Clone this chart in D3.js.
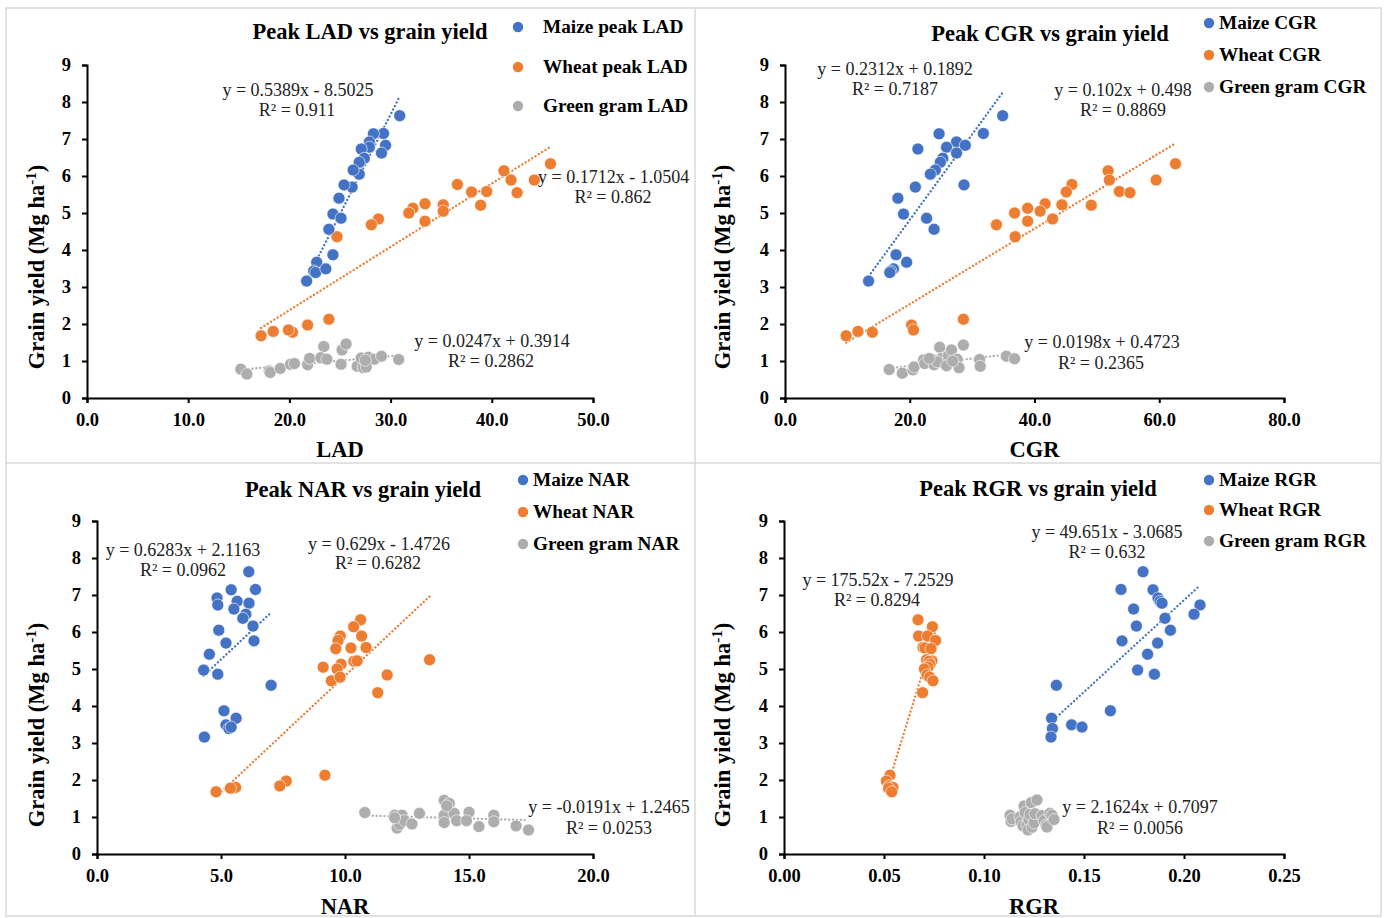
<!DOCTYPE html>
<meta charset="utf-8">
<script src="https://cdn.jsdelivr.net/npm/d3@7/dist/d3.min.js"></script>
<html>
<head>
<style>
body { margin: 0; background: #fff; }
svg text { font-family: "Liberation Serif", "Times New Roman", serif; }
.tick text { font-weight: bold; font-size: 18.5px; fill: #000; }
.axis path, .axis line { stroke: #000; stroke-width: 2; }
.title { font-weight: bold; font-size: 22.5px; }
.legend { font-weight: bold; font-size: 19.3px; }
.alab { font-weight: bold; font-size: 22.5px; }
.eq { font-size: 18px; fill: #222; }
</style>
</head>
<body>
<div id="chart"></div>
<script>

// grain yield (Mg/ha) against peak growth index, [x, y]
var maizeLAD = [[30.9,7.63],[29.3,7.15],[28.3,7.14],[29.5,6.83],[29.1,6.62],[27.9,6.92],[27.9,6.78],[27.1,6.73],
  [27.4,6.48],[26.9,6.37],[26.9,6.05],[26.3,6.16],[26.2,5.70],[25.4,5.76],[24.9,5.40],[24.3,4.97],[25.1,4.86],
  [23.9,4.56],[24.3,3.87],[22.7,3.67],[22.4,3.43],[22.6,3.39],[23.6,3.49],[21.7,3.16]];
var wheatLAD = [[45.8,6.33],[41.2,6.14],[41.9,5.89],[44.2,5.89],[42.5,5.55],[39.5,5.58],[38.0,5.57],[36.6,5.77],
  [38.9,5.21],[35.2,5.22],[35.2,5.05],[33.4,5.25],[33.4,4.78],[32.2,5.13],[31.8,5.00],[28.8,4.84],[28.1,4.68],
  [24.7,4.36],[23.9,2.13],[21.8,1.97],[20.3,1.78],[19.9,1.84],[18.4,1.80],[17.2,1.68]];
var gramLAD = [[15.2,0.78],[15.8,0.65],[18.0,0.73],[18.1,0.69],[19.1,0.80],[20.1,0.91],[20.5,0.93],[21.8,0.90],
  [22.0,1.07],[23.4,1.39],[23.1,1.09],[23.7,1.05],[25.2,1.30],[25.6,1.46],[25.1,0.91],[26.7,0.86],[27.1,1.08],
  [27.3,0.82],[27.6,0.84],[27.8,1.10],[28.4,1.05],[29.1,1.13],[27.5,1.02],[30.8,1.04]];

var maizeCGR = [[34.9,7.63],[31.8,7.15],[24.7,7.14],[27.5,6.92],[28.9,6.83],[25.9,6.78],[21.3,6.73],[27.5,6.62],
  [25.3,6.48],[24.9,6.37],[24.1,6.16],[23.3,6.05],[20.9,5.70],[28.7,5.76],[18.1,5.40],[19.0,4.97],[22.7,4.86],
  [23.9,4.56],[17.8,3.87],[19.5,3.67],[17.4,3.49],[17.0,3.43],[16.8,3.39],[13.4,3.16]];
var wheatCGR = [[62.6,6.33],[51.8,6.14],[52.0,5.89],[59.5,5.89],[53.6,5.58],[55.3,5.55],[46.0,5.77],[45.1,5.57],
  [49.1,5.21],[44.4,5.22],[41.7,5.25],[40.9,5.05],[38.9,5.13],[36.8,5.00],[38.9,4.78],[42.9,4.84],[33.9,4.68],
  [36.9,4.36],[28.6,2.13],[20.3,1.97],[20.6,1.84],[14.0,1.78],[11.7,1.80],[9.8,1.68]];
var gramCGR = [[16.7,0.77],[18.8,0.67],[20.5,0.76],[20.7,0.84],[22.2,1.03],[22.4,0.93],[23.6,1.04],[23.9,0.90],
  [24.8,1.37],[25.1,1.07],[25.5,0.93],[26.2,1.15],[26.7,1.30],[24.4,0.98],[27.6,1.05],[27.9,0.82],[28.6,1.43],
  [25.9,0.87],[31.2,1.04],[31.3,0.86],[35.5,1.13],[36.8,1.06],[23.1,1.07],[26.9,1.00]];

var maizeNAR = [[6.12,7.63],[5.41,7.14],[6.39,7.15],[4.84,6.92],[4.87,6.73],[5.65,6.83],[6.13,6.78],[5.52,6.62],
  [6.00,6.48],[5.88,6.37],[6.29,6.16],[4.91,6.05],[5.20,5.70],[6.33,5.76],[4.53,5.40],[4.30,4.97],[4.87,4.86],
  [7.02,4.56],[5.12,3.87],[5.61,3.67],[5.20,3.49],[5.32,3.39],[5.41,3.43],[4.33,3.16]];
var wheatNAR = [[10.63,6.33],[10.35,6.14],[9.81,5.89],[10.67,5.89],[9.72,5.77],[9.63,5.55],[10.24,5.57],[10.85,5.58],
  [10.36,5.21],[10.49,5.22],[13.41,5.25],[9.84,5.13],[9.12,5.05],[9.68,5.00],[11.70,4.84],[9.45,4.68],[9.80,4.78],
  [11.32,4.36],[9.19,2.13],[7.63,1.97],[7.37,1.84],[5.59,1.80],[5.38,1.78],[4.80,1.68]];
var gramNAR = [[10.8,1.12],[12.0,1.05],[12.3,1.05],[12.1,0.92],[12.1,0.70],[12.2,0.80],[12.4,0.90],[12.7,0.81],
  [13.0,1.10],[14.0,1.45],[14.2,1.37],[14.0,1.05],[14.0,0.85],[14.4,1.10],[14.5,0.90],[15.0,1.13],[14.9,0.90],
  [15.4,0.74],[16.0,1.05],[16.0,0.87],[16.9,0.76],[17.4,0.65],[14.1,1.30],[12.0,0.98]];

var maizeRGR = [[0.1795,7.63],[0.1685,7.15],[0.1845,7.14],[0.1870,6.92],[0.1880,6.83],[0.1890,6.78],[0.2080,6.73],
  [0.1748,6.62],[0.2050,6.48],[0.1905,6.37],[0.1762,6.16],[0.1932,6.05],[0.1690,5.76],[0.1868,5.70],[0.1818,5.40],
  [0.1768,4.97],[0.1852,4.86],[0.1362,4.56],[0.1632,3.87],[0.1338,3.67],[0.1438,3.49],[0.1490,3.43],[0.1342,3.39],
  [0.1335,3.16]];
var wheatRGR = [[0.0670,6.33],[0.0742,6.14],[0.0673,5.89],[0.0718,5.89],[0.0758,5.77],[0.0695,5.58],[0.0705,5.57],
  [0.0735,5.55],[0.0713,5.25],[0.0740,5.22],[0.0725,5.21],[0.0730,5.13],[0.0720,5.05],[0.0702,5.00],[0.0715,4.84],
  [0.0729,4.78],[0.0745,4.68],[0.0693,4.36],[0.0530,2.13],[0.0512,1.97],[0.0526,1.84],[0.0545,1.80],[0.0523,1.78],
  [0.0539,1.68]];
var gramRGR = [[0.1130,1.05],[0.1135,0.88],[0.1140,0.95],[0.1180,1.00],[0.1185,0.87],[0.1195,0.76],[0.1200,1.30],
  [0.1205,1.12],[0.1215,0.80],[0.1220,0.65],[0.1225,0.93],[0.1230,1.07],[0.1237,1.39],[0.1240,0.72],[0.1250,0.84],
  [0.1255,1.09],[0.1265,1.46],[0.1290,1.04],[0.1300,0.90],[0.1310,0.78],[0.1315,0.73],[0.1330,1.10],[0.1340,1.05],
  [0.1350,0.93]];

// linear fits [slope, intercept] as printed on the chart
var fitLAD = [[0.5389,-8.5025],[0.1712,-1.0504],[0.0247,0.3914]];
var fitCGR = [[0.2312,0.1892],[0.102,0.498],[0.0198,0.4723]];
var fitNAR = [[0.6283,2.1163],[0.629,-1.4726],[-0.0191,1.2465]];
var fitRGR = [[49.651,-3.0685],[175.52,-7.2529],[2.1624,0.7097]];

var eqLAD = ["y = 0.5389x - 8.5025","R² = 0.911","y = 0.1712x - 1.0504","R² = 0.862","y = 0.0247x + 0.3914","R² = 0.2862"];
var eqCGR = ["y = 0.2312x + 0.1892","R² = 0.7187","y = 0.102x + 0.498","R² = 0.8869","y = 0.0198x + 0.4723","R² = 0.2365"];
var eqNAR = ["y = 0.6283x + 2.1163","R² = 0.0962","y = 0.629x - 1.4726","R² = 0.6282","y = -0.0191x + 1.2465","R² = 0.0253"];
var eqRGR = ["y = 49.651x - 3.0685","R² = 0.632","y = 175.52x - 7.2529","R² = 0.8294","y = 2.1624x + 0.7097","R² = 0.0056"];

var yTicks = [0,1,2,3,4,5,6,7,8,9];
var colors = ["#4472c4","#ed7d31","#adadad"];

var panels = [
  {title:"Peak LAD vs grain yield", xlab:"LAD", xmax:50, xstep:10, fmt:".1f",
   data:[maizeLAD,wheatLAD,gramLAD], fit:fitLAD, eq:eqLAD,
   legend:["Maize peak LAD","Wheat peak LAD","Green gram LAD"]},
  {title:"Peak CGR vs grain yield", xlab:"CGR", xmax:80, xstep:20, fmt:".1f",
   data:[maizeCGR,wheatCGR,gramCGR], fit:fitCGR, eq:eqCGR,
   legend:["Maize CGR","Wheat CGR","Green gram CGR"]},
  {title:"Peak NAR vs grain yield", xlab:"NAR", xmax:20, xstep:5, fmt:".1f",
   data:[maizeNAR,wheatNAR,gramNAR], fit:fitNAR, eq:eqNAR,
   legend:["Maize NAR","Wheat NAR","Green gram NAR"]},
  {title:"Peak RGR vs grain yield", xlab:"RGR", xmax:0.25, xstep:0.05, fmt:".2f",
   data:[maizeRGR,wheatRGR,gramRGR], fit:fitRGR, eq:eqRGR,
   legend:["Maize RGR","Wheat RGR","Green gram RGR"]}
];

// page layout for each panel (pixels)
var layout = [
  {x0:87, x1:593, y0:398, y1:65, ylx:36, ylc:267, xly:449, title:[370,32],
   leg:{mx:518, tx:543, ys:[27,67,106]},
   eqpos:[[298,90],[297,110],[538,177,"start"],[613,197],[492,341],[491,361]]},
  {x0:785, x1:1284, y0:398, y1:65, ylx:722, ylc:267, xly:449, title:[1050,34],
   leg:{mx:1209, tx:1219, ys:[23,55,87]},
   eqpos:[[895,69],[895,89],[1123,90],[1123,110],[1102,342],[1101,363]]},
  {x0:97, x1:593, y0:854, y1:521, ylx:36, ylc:725, xly:906, title:[363,490],
   leg:{mx:523, tx:533, ys:[480,512,544]},
   eqpos:[[183,550],[183,570],[379,544],[378,563],[609,807],[609,828]]},
  {x0:784, x1:1284, y0:854, y1:521, ylx:722, ylc:725, xly:906, title:[1038,489],
   leg:{mx:1209, tx:1219, ys:[480,510,541]},
   eqpos:[[1107,532],[1107,552],[878,580],[877,600],[1140,807],[1140,828]]}
];

var svg = d3.select("#chart").append("svg")
  .attr("width", 1384).attr("height", 918);

// faint frame around the four panels
var frame = svg.append("g").attr("stroke", "#d9d9d9").attr("stroke-width", 1.5).attr("fill", "none");
frame.append("rect").attr("x", 6).attr("y", 8).attr("width", 1375).attr("height", 908);
frame.append("line").attr("x1", 695).attr("x2", 695).attr("y1", 8).attr("y2", 916);
frame.append("line").attr("x1", 6).attr("x2", 1381).attr("y1", 463).attr("y2", 463);

panels.forEach(function(p, i) {
  var L = layout[i];
  var g = svg.append("g");

  var x = d3.scaleLinear().domain([0, p.xmax]).range([L.x0, L.x1]);
  var y = d3.scaleLinear().domain([0, 9]).range([L.y0, L.y1]);

  var xt = d3.range(0, p.xmax + p.xstep / 2, p.xstep);
  g.append("g").attr("class", "axis")
    .attr("transform", "translate(0," + L.y0 + ")")
    .call(d3.axisBottom(x).tickValues(xt).tickFormat(d3.format(p.fmt)).tickSizeOuter(0).tickSize(5).tickPadding(10));
  g.append("g").attr("class", "axis")
    .attr("transform", "translate(" + L.x0 + ",0)")
    .call(d3.axisLeft(y).tickValues(yTicks).tickSizeOuter(0).tickSize(5).tickPadding(11));

  // trend lines over each series' x range
  p.data.forEach(function(pts, k) {
    var ext = d3.extent(pts, function(d) { return d[0]; });
    var f = p.fit[k];
    g.append("path")
      .datum(ext.map(function(v) { return [v, f[0] * v + f[1]]; }))
      .attr("fill", "none")
      .attr("stroke", colors[k])
      .attr("stroke-width", 2.3)
      .attr("stroke-linecap", "round")
      .attr("stroke-dasharray", "0.1 3.8")
      .attr("d", d3.line().x(function(d) { return x(d[0]); }).y(function(d) { return y(d[1]); }));
  });

  // points: gram first so maize sits on top
  [2, 1, 0].forEach(function(k) {
    g.append("g").selectAll("circle").data(p.data[k]).enter().append("circle")
      .attr("cx", function(d) { return x(d[0]); })
      .attr("cy", function(d) { return y(d[1]); })
      .attr("r", 6)
      .attr("fill", colors[k])
      .attr("stroke", "#fff")
      .attr("stroke-width", 0.6);
  });

  // equations
  p.eq.forEach(function(t, k) {
    var pos = L.eqpos[k];
    g.append("text").attr("class", "eq")
      .attr("x", pos[0]).attr("y", pos[1] + 6)
      .attr("text-anchor", pos[2] || "middle")
      .text(t);
  });

  g.append("text").attr("class", "title")
    .attr("x", L.title[0]).attr("y", L.title[1] + 7)
    .attr("text-anchor", "middle").text(p.title);

  p.legend.forEach(function(t, k) {
    g.append("circle").attr("cx", L.leg.mx).attr("cy", L.leg.ys[k]).attr("r", 5.2).attr("fill", colors[k]);
    g.append("text").attr("class", "legend")
      .attr("x", L.leg.tx).attr("y", L.leg.ys[k] + 6).text(t);
  });

  g.append("text").attr("class", "alab")
    .attr("x", (L.x0 + L.x1) / 2).attr("y", L.xly + 8)
    .attr("text-anchor", "middle").text(p.xlab);

  var yl = g.append("text").attr("class", "alab")
    .attr("transform", "translate(" + (L.ylx + 8) + "," + L.ylc + ") rotate(-90)")
    .attr("text-anchor", "middle");
  yl.append("tspan").text("Grain yield (Mg ha");
  yl.append("tspan").attr("font-size", "15px").attr("dy", -8).text("-1");
  yl.append("tspan").attr("dy", 8).text(")");
});

</script>
</body>
</html>
